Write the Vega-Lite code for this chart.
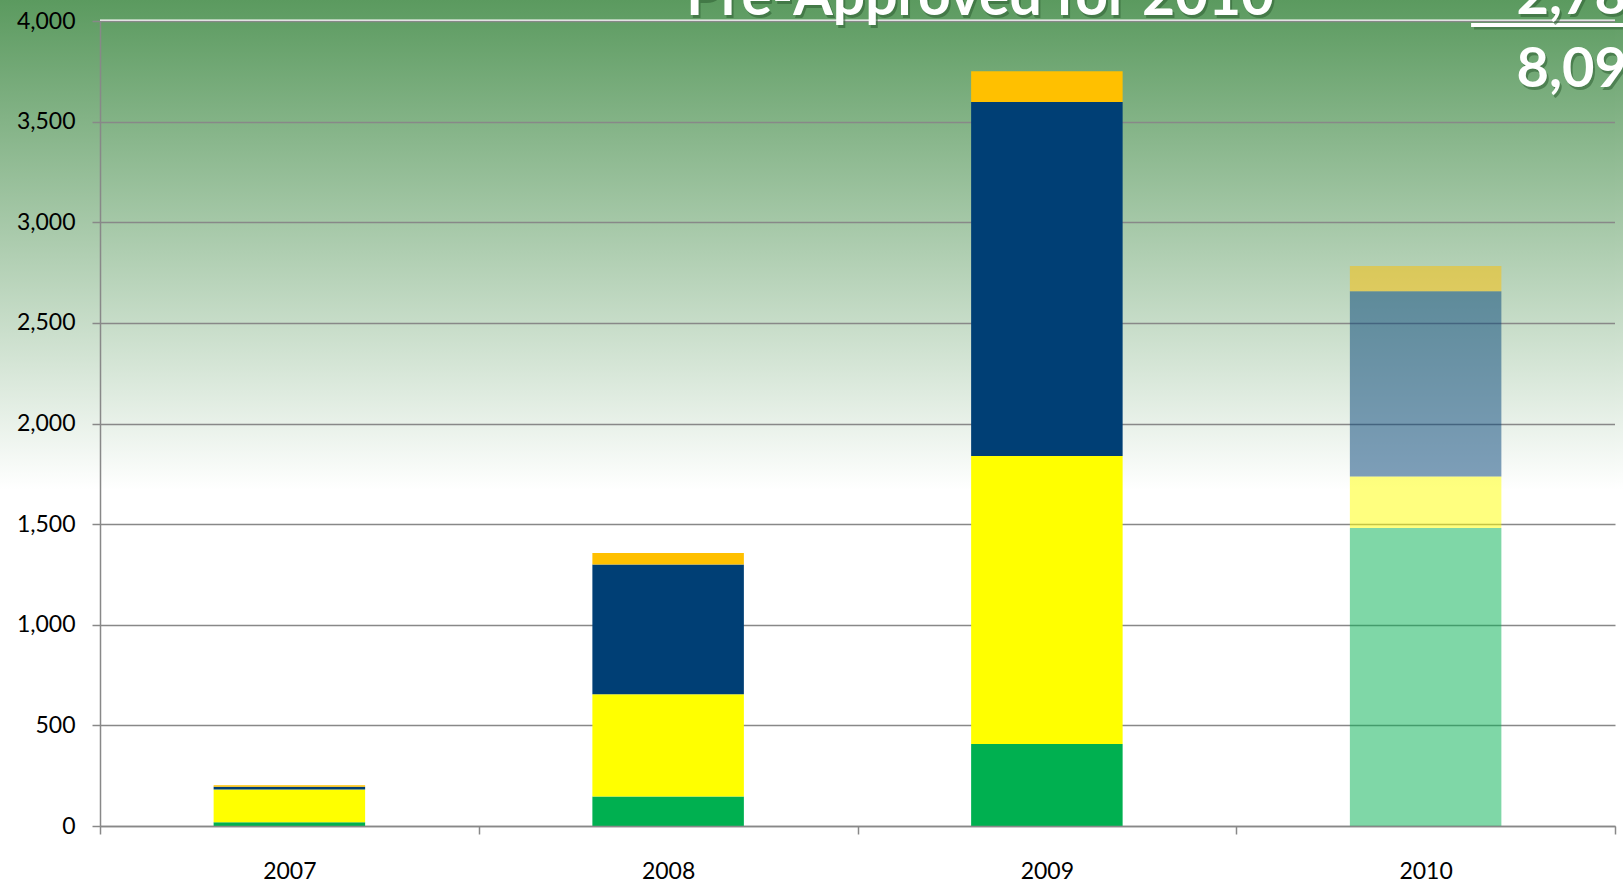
{
  "$schema": "https://vega.github.io/schema/vega-lite/v6.json",
  "autosize": {"type": "none"},
  "width": 1515,
  "height": 805,
  "padding": {"left": 100, "top": 21, "right": 8, "bottom": 61},
  "background": "#ffffff",
  "view": {
    "stroke": null,
    "fill": {
      "gradient": "linear", "x1": 0, "y1": 0, "x2": 0, "y2": 1,
      "stops": [
        {"offset": 0, "color": "#619e65"},
        {"offset": 0.583, "color": "#ffffff"},
        {"offset": 1, "color": "#ffffff"}
      ]
    }
  },
  "layer": [
    {
      "data": {
        "values": [
          {"year": "2007", "category": "Category 1", "status": "Approved", "count": 19},
          {"year": "2007", "category": "Category 2", "status": "Approved", "count": 162},
          {"year": "2007", "category": "Category 3", "status": "Approved", "count": 14},
          {"year": "2007", "category": "Category 4", "status": "Approved", "count": 7},
          {"year": "2008", "category": "Category 1", "status": "Approved", "count": 147},
          {"year": "2008", "category": "Category 2", "status": "Approved", "count": 508},
          {"year": "2008", "category": "Category 3", "status": "Approved", "count": 644},
          {"year": "2008", "category": "Category 4", "status": "Approved", "count": 58},
          {"year": "2009", "category": "Category 1", "status": "Approved", "count": 408},
          {"year": "2009", "category": "Category 2", "status": "Approved", "count": 1431},
          {"year": "2009", "category": "Category 3", "status": "Approved", "count": 1758},
          {"year": "2009", "category": "Category 4", "status": "Approved", "count": 153},
          {"year": "2010", "category": "Category 1", "status": "Pre-Approved", "count": 1481},
          {"year": "2010", "category": "Category 2", "status": "Pre-Approved", "count": 256},
          {"year": "2010", "category": "Category 3", "status": "Pre-Approved", "count": 920},
          {"year": "2010", "category": "Category 4", "status": "Pre-Approved", "count": 125}
        ]
      },
      "mark": {"type": "bar", "width": {"band": 0.4}},
      "encoding": {
        "x": {
          "field": "year", "type": "nominal",
          "scale": {"paddingInner": 0, "paddingOuter": 0},
          "axis": {
            "title": null, "labelAngle": 0, "labelFont": "Lato", "labelFontSize": 23,
            "labelColor": "#000000", "labelPadding": 26, "tickBand": "extent",
            "tickSize": 8, "tickColor": "#888888", "tickWidth": 1.5,
            "domainColor": "#888888", "domainWidth": 1.5, "grid": false, "zindex": 1
          }
        },
        "y": {
          "field": "count", "type": "quantitative", "stack": "zero",
          "scale": {"domain": [0, 4000], "nice": false},
          "axis": {
            "orient": "left", "title": null,
            "values": [0, 500, 1000, 1500, 2000, 2500, 3000, 3500, 4000],
            "labels": false, "ticks": false, "domain": false,
            "grid": true, "gridColor": "#888888", "gridWidth": 1.5, "zindex": 0
          }
        },
        "color": {
          "field": "category", "type": "nominal",
          "scale": {
            "domain": ["Category 1", "Category 2", "Category 3", "Category 4"],
            "range": ["#00b050", "#ffff00", "#003f75", "#ffc000"]
          },
          "legend": null
        },
        "order": {"field": "category", "type": "nominal", "sort": "ascending"},
        "opacity": {
          "field": "status", "type": "ordinal",
          "scale": {"domain": ["Approved", "Pre-Approved"], "range": [1, 0.5]},
          "legend": null
        }
      }
    },
    {
      "data": {"values": [{}]},
      "mark": {"type": "rect", "fill": {
        "gradient": "linear", "x1": 0, "y1": 0, "x2": 0, "y2": 1,
        "stops": [{"offset": 0, "color": "#5b9a5f"}, {"offset": 1, "color": "#ffffff"}]}},
      "encoding": {
        "x": {"datum": -0.0661, "type": "quantitative", "scale": {"domain": [0, 1], "nice": false, "zero": false}, "axis": null},
        "x2": {"datum": 0},
        "y": {"datum": 4105, "type": "quantitative", "scale": {"domain": [0, 4000], "nice": false},
          "axis": {
            "orient": "left", "title": null,
            "values": [0, 500, 1000, 1500, 2000, 2500, 3000, 3500, 4000],
            "format": ",d", "labelFont": "Lato", "labelFontSize": 23, "labelColor": "#000000",
            "labelPadding": 17, "tickSize": 8, "tickColor": "#888888", "tickWidth": 1.5,
            "domainColor": "#888888", "domainWidth": 1.5, "grid": false, "zindex": 1
          }},
        "y2": {"datum": 1672}
      }
    },
    {
      "data": {"values": [{}]},
      "layer": [
        {
          "mark": {"type": "rect", "fill": {
            "gradient": "linear", "x1": 0, "y1": 0, "x2": 0, "y2": 1,
            "stops": [{"offset": 0, "color": "#5b9a5f"}, {"offset": 1, "color": "#ffffff"}]}},
          "encoding": {
            "x": {"datum": 1, "type": "quantitative", "scale": {"domain": [0, 1], "nice": false, "zero": false}, "axis": null},
            "x2": {"datum": 1.0062},
            "y": {"datum": 4105, "type": "quantitative", "scale": {"domain": [0, 4000], "nice": false}, "axis": null},
            "y2": {"datum": 1672}
          }
        },
        {
          "mark": {"type": "rect", "fill": {
            "gradient": "linear", "x1": 0, "y1": 0, "x2": 0, "y2": 1,
            "stops": [{"offset": 0, "color": "#5b9a5f"}, {"offset": 1, "color": "#619e65"}]}},
          "encoding": {
            "x": {"datum": 0, "type": "quantitative", "scale": {"domain": [0, 1], "nice": false, "zero": false}, "axis": null},
            "x2": {"datum": 1},
            "y": {"datum": 4105, "type": "quantitative", "scale": {"domain": [0, 4000], "nice": false}, "axis": null},
            "y2": {"datum": 4008}
          }
        },
        {
          "mark": {"type": "rule", "color": "#2f5f33", "opacity": 0.5, "strokeWidth": 4},
          "encoding": {
            "x": {"datum": 0.907, "type": "quantitative", "scale": {"domain": [0, 1], "nice": false, "zero": false}, "axis": null},
            "x2": {"datum": 1.01},
            "y": {"datum": 3968, "type": "quantitative", "scale": {"domain": [0, 4000], "nice": false}, "axis": null}
          }
        },
        {
          "mark": {"type": "rule", "color": "#ffffff", "strokeWidth": 4},
          "encoding": {
            "x": {"datum": 0.905, "type": "quantitative", "scale": {"domain": [0, 1], "nice": false, "zero": false}, "axis": null},
            "x2": {"datum": 1.01},
            "y": {"datum": 3980, "type": "quantitative", "scale": {"domain": [0, 4000], "nice": false}, "axis": null}
          }
        },
        {
          "mark": {"type": "text", "text": "Pre-Approved for 2010", "font": "Lato", "fontWeight": "bold", "fontSize": 57, "align": "center", "baseline": "alphabetic", "color": "#2f5f33", "opacity": 0.55, "dx": 2, "dy": 3},
          "encoding": {
            "x": {"datum": 0.581, "type": "quantitative", "scale": {"domain": [0, 1], "nice": false, "zero": false}, "axis": null},
            "y": {"datum": 4030, "type": "quantitative", "scale": {"domain": [0, 4000], "nice": false}, "axis": null}
          }
        },
        {
          "mark": {"type": "text", "text": "Pre-Approved for 2010", "font": "Lato", "fontWeight": "bold", "fontSize": 57, "align": "center", "baseline": "alphabetic", "color": "#ffffff"},
          "encoding": {
            "x": {"datum": 0.581, "type": "quantitative", "scale": {"domain": [0, 1], "nice": false, "zero": false}, "axis": null},
            "y": {"datum": 4030, "type": "quantitative", "scale": {"domain": [0, 4000], "nice": false}, "axis": null}
          }
        },
        {
          "mark": {"type": "text", "text": "2,78", "font": "Lato", "fontWeight": "bold", "fontSize": 56, "align": "left", "baseline": "alphabetic", "color": "#2f5f33", "opacity": 0.55, "dx": 2, "dy": 3},
          "encoding": {
            "x": {"datum": 0.935, "type": "quantitative", "scale": {"domain": [0, 1], "nice": false, "zero": false}, "axis": null},
            "y": {"datum": 4035, "type": "quantitative", "scale": {"domain": [0, 4000], "nice": false}, "axis": null}
          }
        },
        {
          "mark": {"type": "text", "text": "2,78", "font": "Lato", "fontWeight": "bold", "fontSize": 56, "align": "left", "baseline": "alphabetic", "color": "#ffffff"},
          "encoding": {
            "x": {"datum": 0.935, "type": "quantitative", "scale": {"domain": [0, 1], "nice": false, "zero": false}, "axis": null},
            "y": {"datum": 4035, "type": "quantitative", "scale": {"domain": [0, 4000], "nice": false}, "axis": null}
          }
        },
        {
          "mark": {"type": "text", "text": "8,09", "font": "Lato", "fontWeight": "bold", "fontSize": 56, "align": "left", "baseline": "alphabetic", "color": "#2f5f33", "opacity": 0.55, "dx": 2, "dy": 3},
          "encoding": {
            "x": {"datum": 0.935, "type": "quantitative", "scale": {"domain": [0, 1], "nice": false, "zero": false}, "axis": null},
            "y": {"datum": 3672, "type": "quantitative", "scale": {"domain": [0, 4000], "nice": false}, "axis": null}
          }
        },
        {
          "mark": {"type": "text", "text": "8,09", "font": "Lato", "fontWeight": "bold", "fontSize": 56, "align": "left", "baseline": "alphabetic", "color": "#ffffff"},
          "encoding": {
            "x": {"datum": 0.935, "type": "quantitative", "scale": {"domain": [0, 1], "nice": false, "zero": false}, "axis": null},
            "y": {"datum": 3672, "type": "quantitative", "scale": {"domain": [0, 4000], "nice": false}, "axis": null}
          }
        }
      ]
    }
  ],
  "resolve": {"scale": {"x": "independent"}, "axis": {"x": "independent", "y": "independent"}}
}
